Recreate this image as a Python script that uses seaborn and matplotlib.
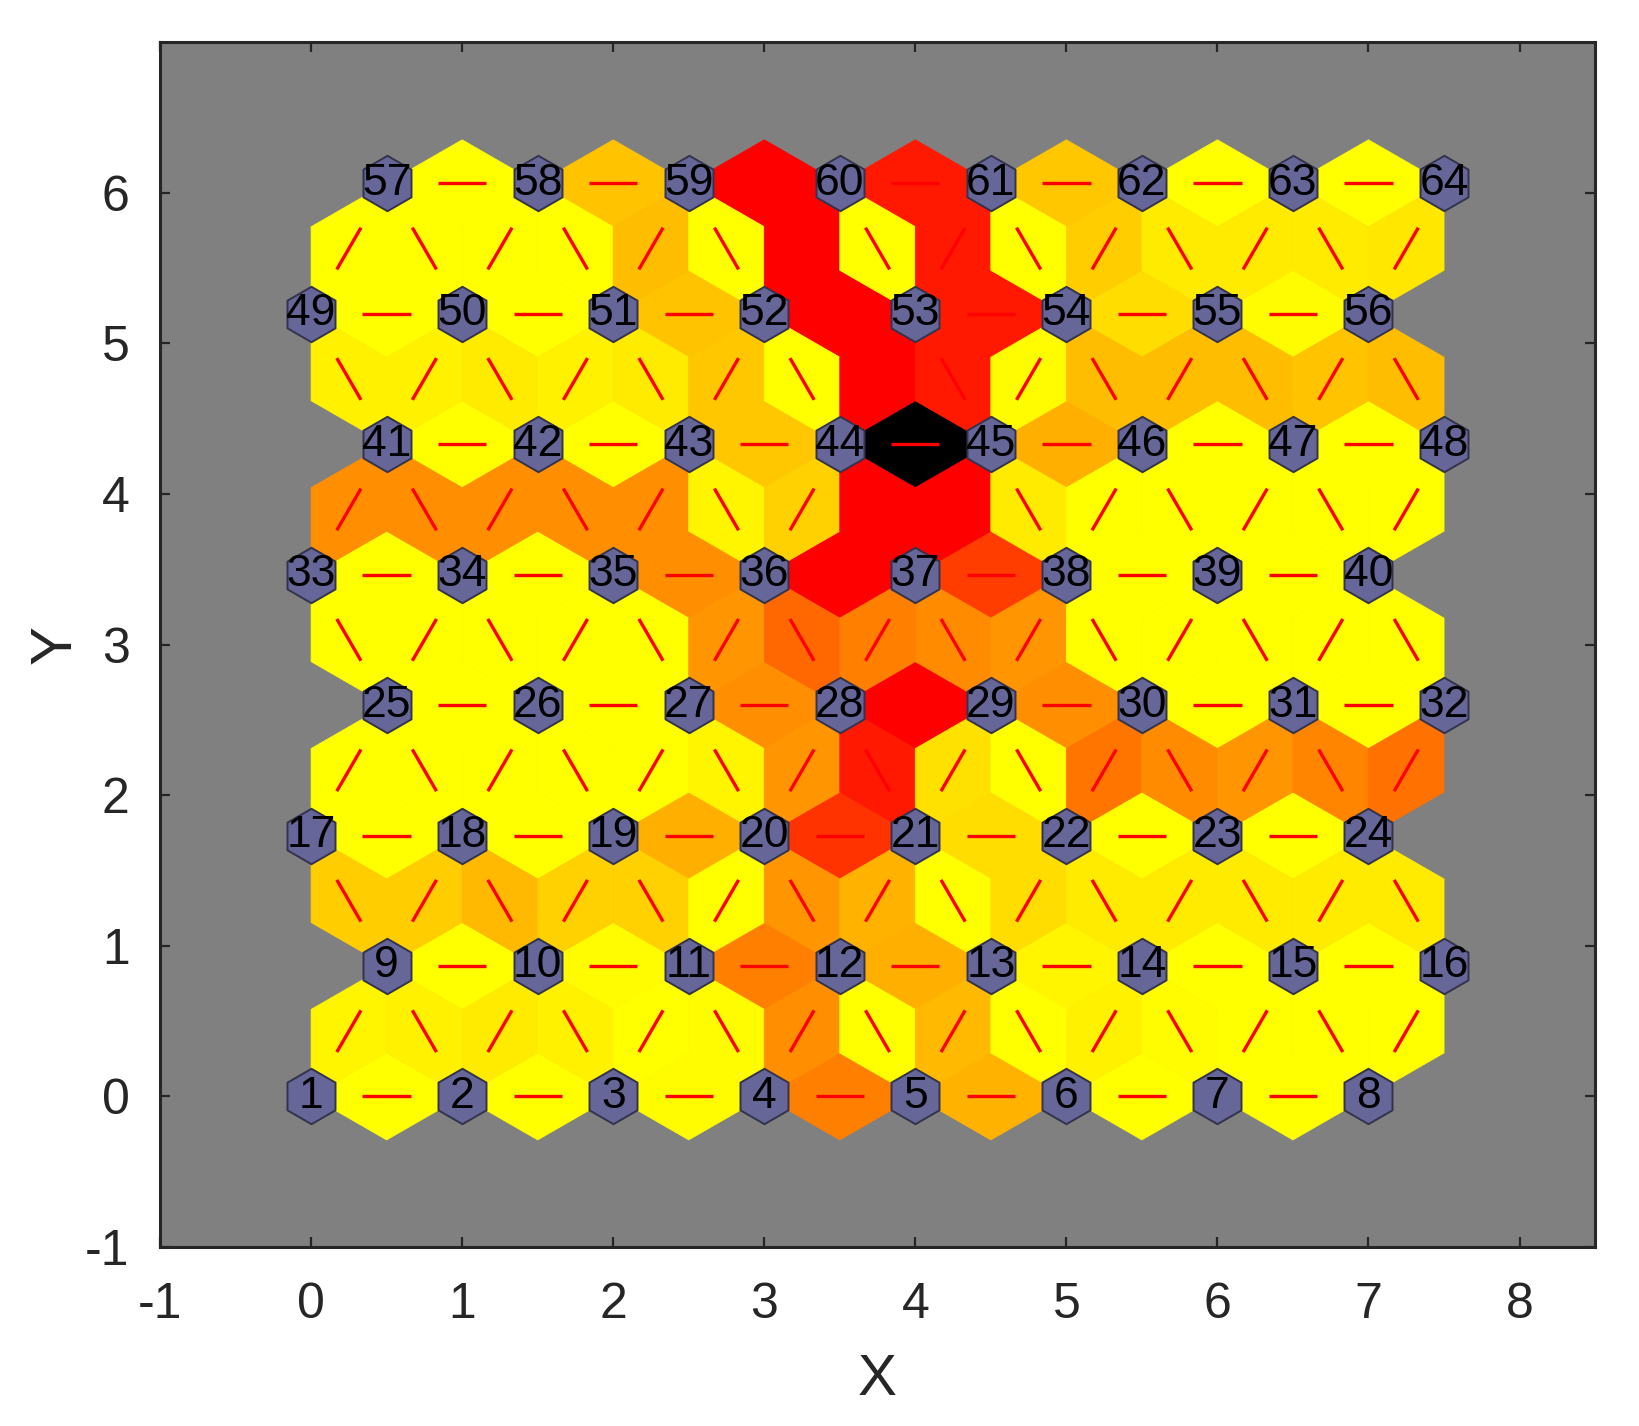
import numpy as np
import pandas as pd
import matplotlib
matplotlib.use("Agg")
import matplotlib.pyplot as plt
import seaborn as sns
from matplotlib.collections import PolyCollection, LineCollection
from matplotlib.colors import LinearSegmentedColormap

# SOM neighbour distances, normalised: 0 = yellow (close), 0.5 = red, 1 = black (far)
n_rows = 8
n_cols = 8
neuron_ids = list(range(1, 65))

# horizontal links, one list per neuron row (bottom row first)
horiz_dist = [
    [0.00, 0.00, 0.01, 0.25, 0.15, 0.00, 0.00],   # 1-8
    [0.00, 0.01, 0.25, 0.16, 0.02, 0.00, 0.00],   # 9-16
    [0.00, 0.00, 0.16, 0.40, 0.07, 0.00, 0.00],   # 17-24
    [0.00, 0.00, 0.22, 0.50, 0.22, 0.00, 0.00],   # 25-32
    [0.00, 0.00, 0.22, 0.50, 0.38, 0.00, 0.00],   # 33-40
    [0.00, 0.00, 0.11, 1.00, 0.16, 0.00, 0.00],   # 41-48
    [0.00, 0.00, 0.12, 0.50, 0.45, 0.07, 0.01],   # 49-56
    [0.00, 0.12, 0.50, 0.45, 0.11, 0.00, 0.00],   # 57-64
]

# diagonal links between neuron row k and row k+1, left to right
diag_dist = [
    [0.02, 0.03, 0.04, 0.03, 0.00, 0.01, 0.22, 0.00, 0.14, 0.00, 0.03, 0.01, 0.00, 0.00, 0.00],
    [0.10, 0.10, 0.14, 0.09, 0.09, 0.00, 0.21, 0.15, 0.00, 0.07, 0.04, 0.04, 0.04, 0.04, 0.04],
    [0.00, 0.00, 0.00, 0.00, 0.00, 0.02, 0.21, 0.45, 0.06, 0.00, 0.27, 0.23, 0.21, 0.24, 0.28],
    [0.00, 0.00, 0.00, 0.00, 0.00, 0.21, 0.30, 0.25, 0.23, 0.21, 0.00, 0.00, 0.00, 0.00, 0.00],
    [0.22, 0.22, 0.22, 0.22, 0.22, 0.02, 0.09, 0.50, 0.50, 0.04, 0.00, 0.00, 0.00, 0.00, 0.00],
    [0.03, 0.03, 0.04, 0.03, 0.04, 0.11, 0.00, 0.50, 0.45, 0.01, 0.13, 0.13, 0.13, 0.12, 0.13],
    [0.00, 0.00, 0.00, 0.00, 0.13, 0.00, 0.50, 0.00, 0.45, 0.00, 0.10, 0.04, 0.04, 0.04, 0.05],
]


def pos(r, c):
    return np.array([c + 0.5 * (r % 2), r * np.sqrt(3) / 2])


# collect links (a, b, dist)
links = []
for r in range(n_rows):
    for c in range(n_cols - 1):
        links.append((pos(r, c), pos(r, c + 1), horiz_dist[r][c]))
for k in range(n_rows - 1):
    for i in range(2 * n_cols - 1):
        j = i // 2
        if k % 2 == 0:
            a, b = (pos(k, j), pos(k + 1, j)) if i % 2 == 0 else (pos(k + 1, j), pos(k, j + 1))
        else:
            a, b = (pos(k + 1, j), pos(k, j)) if i % 2 == 0 else (pos(k, j), pos(k + 1, j + 1))
        links.append((a, b, diag_dist[k][i]))

cmap = LinearSegmentedColormap.from_list(
    "somnd", [(0.0, (1, 1, 0)), (0.5, (1, 0, 0)), (1.0, (0, 0, 0))])

h = 1 / (2 * np.sqrt(3))
polys, cols, segs = [], [], []
for a, b, d in links:
    m = (a + b) / 2
    v = b - a
    n = np.array([-v[1], v[0]]) / np.linalg.norm(v)
    polys.append([a, m + h * n, b, m - h * n])
    cols.append(cmap(d))
    segs.append([m - 0.16 * v, m + 0.16 * v])

sns.set_style("ticks")
plt.rcParams['font.family'] = ['Liberation Sans', 'DejaVu Sans']
plt.rcParams['axes.unicode_minus'] = False

fig = plt.figure(figsize=(16.4, 14.26), dpi=100, facecolor='w')
ax = fig.add_axes([0.0976, 0.1255, 0.875, 0.845])
ax.set_facecolor((0.5, 0.5, 0.5))

ax.add_collection(PolyCollection(polys, facecolors=cols, edgecolors=cols,
                                 linewidths=0.6, zorder=1))
ax.add_collection(LineCollection(segs, colors='red', linewidths=2.4, zorder=2))

df = pd.DataFrame({
    'x': [pos(r, c)[0] for r in range(n_rows) for c in range(n_cols)],
    'y': [pos(r, c)[1] for r in range(n_rows) for c in range(n_cols)],
    'id': neuron_ids,
})
sns.scatterplot(data=df, x='x', y='y', marker='h', s=1592, color=(0.4, 0.4, 0.6),
                edgecolor=(0.2, 0.2, 0.3), linewidth=1.4, legend=False, zorder=3, ax=ax)
for _, row in df.iterrows():
    ax.text(row['x'], row['y'], str(int(row['id'])), ha='center', va='center',
            fontsize=32, color='black', zorder=4)

ax.set_xlim(-1, 8.5)
ax.set_ylim(-1, 7)
ax.set_xticks(range(-1, 9))
ax.set_yticks(range(-1, 7))
ax.tick_params(direction='in', top=True, right=True, length=7, width=1.6,
               labelsize=36, labelcolor=(0.15, 0.15, 0.15), color=(0.15, 0.15, 0.15))
ax.tick_params(axis='x', pad=25)
ax.tick_params(axis='y', pad=22)
for s in ax.spines.values():
    s.set_linewidth(2.2)
    s.set_color((0.15, 0.15, 0.15))
ax.set_xlabel('X', fontsize=42, color=(0.15, 0.15, 0.15), labelpad=18)
ax.set_ylabel('Y', fontsize=42, color=(0.15, 0.15, 0.15), labelpad=2)

plt.savefig("out.png", dpi=100)
